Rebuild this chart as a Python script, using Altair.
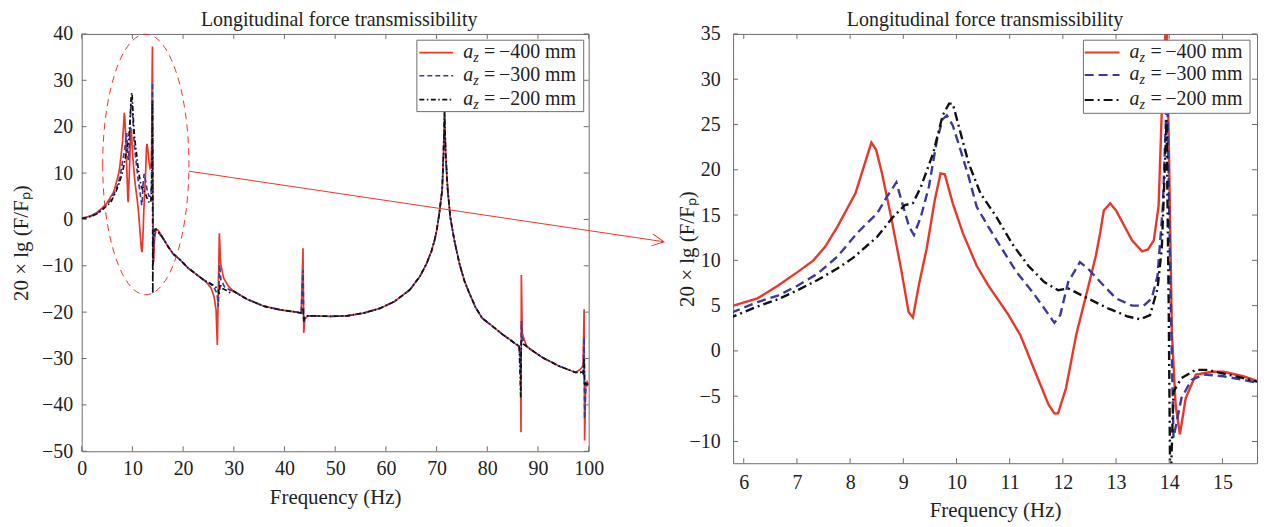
import altair as alt
import pandas as pd

FONT = "Liberation Serif"
RED = "#e8372b"
BLUE = "#3a3a9c"
BLACK = "#111111"
FRAME = "#6e6e6e"
TXT = "#222222"

# ---------------- data ----------------
series = ["-400", "-300", "-200"]
legend_numbers = ["\u2212400", "\u2212300", "\u2212200"]

# a_z = -400 mm, 0-15.65 Hz
red_f = [0, 1, 2, 3, 4, 5, 5.8, 6.26, 6.64, 7.01, 7.31, 7.53, 7.76, 8.1, 8.4, 8.49,
         8.6, 8.77, 8.96, 9.1, 9.18, 9.3, 9.44, 9.59, 9.7, 9.78, 9.93, 10.12, 10.38,
         10.6, 10.98, 11.2, 11.5, 11.73, 11.84, 11.91, 12.06, 12.25, 12.47, 12.62,
         12.7, 12.77, 12.89, 13.0, 13.3, 13.49, 13.6, 13.71, 13.8, 13.88, 13.95,
         14.0, 14.05, 14.12, 14.2, 14.31, 14.5, 14.8, 15.02, 15.39, 15.65]
red_v = [0.3, 0.5, 0.9, 1.5, 2.4, 3.6, 5.0, 5.8, 7.2, 8.7, 10.0, 11.5, 13.7, 17.4, 23.0, 22.2,
         19.6, 14.8, 9.0, 4.3, 3.7, 7.5, 11.3, 16.6, 19.6, 19.5, 16.3, 13.0, 9.4,
         7.2, 3.95, 1.76, -2.6, -5.9, -6.9, -6.9, -4.1, 1.76, 6.9, 10.5,
         13.0, 15.5, 16.3, 15.5, 12.2, 11.0, 11.2, 12.2, 16.0, 30.0, 37.3,
         20.0, 2.0, -6.0, -9.2, -5.2, -2.6, -2.3, -2.3, -2.8, -3.3]

# a_z = -300 mm, 0-15.65 Hz
blue_f = [0, 1, 2, 3, 4, 5, 5.8, 6.26, 6.64, 7.01, 7.38, 7.76, 8.13, 8.51, 8.69, 8.87,
          9.0, 9.11, 9.2, 9.33, 9.48, 9.63, 9.74, 9.82, 9.93, 10.08,
          10.23, 10.38, 10.6, 10.83, 11.13, 11.43, 11.65, 11.84, 11.95, 12.1,
          12.32, 12.47, 12.77, 13.0, 13.3, 13.52, 13.67, 13.78, 13.88, 13.96,
          14.02, 14.08, 14.23, 14.42, 14.64, 15.02, 15.39, 15.65]
blue_v = [0.2, 0.4, 0.8, 1.3, 2.1, 3.2, 4.3, 5.4, 6.1, 7.2, 8.5, 10.4, 13.0, 15.2, 17.0, 18.6,
          15.9, 13.7, 12.8, 14.8, 18.1, 23.2, 25.6, 26.0, 24.9, 22.1,
          19.2, 15.9, 13.7, 11.5, 8.7, 6.5, 4.7, 3.1, 3.95, 7.6,
          9.8, 9.1, 7.2, 5.8, 5.0, 5.0, 5.8, 8.3, 16.0, 29.5,
          8.0, -9.6, -5.2, -3.2, -2.6, -2.8, -3.2, -3.5]

# a_z = -200 mm, 0-15.65 Hz
black_f = [0, 1, 2, 3, 4, 5, 5.8, 6.26, 6.64, 7.01, 7.38, 7.76, 8.06, 8.51, 8.81, 9.03,
           9.18, 9.33, 9.56, 9.74, 9.86, 9.93, 10.08, 10.23, 10.45, 10.75,
           11.05, 11.35, 11.65, 11.91, 12.1, 12.47, 12.85, 13.22, 13.45, 13.64,
           13.78, 13.86, 13.95, 13.99, 14.02, 14.08, 14.23, 14.49, 14.72, 15.02,
           15.39, 15.65]
black_v = [0.2, 0.4, 0.7, 1.2, 2.0, 3.0, 3.8, 4.9, 5.7, 6.7, 7.8, 9.1, 10.3, 12.6, 14.8, 16.1,
           16.3, 18.1, 21.8, 26.0, 27.3, 27.3, 24.0, 20.7, 17.4, 14.8,
           11.8, 9.4, 7.6, 6.7, 6.9, 5.8, 4.7, 3.8, 3.5, 3.95,
           6.9, 11.3, 25.5, 5.0, -16.0, -4.5, -3.0, -2.1, -2.1, -2.5,
           -3.0, -3.4]

# shared smooth part above 16 Hz (the three curves overlap there)
tail_f = [16.0, 17.0, 18.0, 19.5, 21.0, 22.8, 24.0, 30.0, 32.6, 35.9, 39.2, 42.4,
          45.7, 49.0, 52.3, 55.6, 58.8, 61.7, 64.7, 66.7, 68.0, 69.0,
          69.6, 70.0, 70.5, 71.1, 72.2, 72.7, 73.5, 74.5, 75.5, 76.5,
          77.7, 79.0, 81.0, 83.0, 84.3, 85.5, 88.5, 90.9, 94.1, 97.4]
tail_v = [-4.0, -5.8, -7.4, -8.8, -10.5, -12.0, -13.0, -15.5, -17.2, -18.7, -19.5, -20.0,
          -20.8, -20.9, -20.8, -20.2, -19.2, -17.7, -15.2, -12.3, -9.6, -6.8,
          -4.5, -2.5, 1.0, 6.3, 6.3, 0.5, -4.5, -9.5, -13.3, -16.0,
          -19.0, -21.3, -23.0, -24.8, -25.8, -26.8, -28.0, -29.8, -31.6, -33.0]

# resonance spikes (27, 44, 72, 87, 99 Hz), per series
red_spk_f = [24.8, 25.5, 26.1, 26.5, 26.75, 26.95, 27.15, 27.4, 28.0, 29.0,
             43.3, 43.65, 43.8, 44.0, 44.6, 71.35, 71.57, 71.8,
             86.25, 86.55, 86.65, 86.72, 86.9, 87.3, 87.8,
             98.4, 98.9, 99.1, 99.2, 99.4, 99.7, 100.0]
red_spk_v = [-13.8, -14.8, -16.6, -19.5, -27.1, -15.0, -3.0, -9.5, -12.7, -14.5,
             -20.2, -6.2, -24.5, -21.5, -20.8, 14.0, 23.5, 14.0,
             -27.5, -30.0, -45.9, -12.0, -24.5, -26.0, -27.4,
             -32.3, -31.5, -19.4, -47.7, -36.0, -35.0, -35.6]
blue_spk_f = [25.0, 26.0, 26.7, 26.95, 27.2, 27.45, 28.2, 29.2,
              43.3, 43.65, 43.8, 44.0, 44.6, 71.35, 71.57, 71.8,
              86.3, 86.6, 86.72, 86.9, 87.3, 87.8,
              98.4, 98.9, 99.1, 99.2, 99.4, 99.7, 100.0]
blue_spk_v = [-13.6, -14.5, -16.0, -18.8, -9.8, -13.0, -14.6, -15.2,
              -20.2, -10.9, -22.3, -21.0, -20.8, 13.5, 22.3, 13.5,
              -27.3, -33.0, -21.9, -25.5, -26.5, -27.4,
              -32.9, -33.0, -25.5, -43.0, -37.0, -35.5, -35.7]
black_spk_f = [25.0, 26.1, 26.9, 27.1, 27.3, 27.6, 28.5, 29.3,
               43.3, 43.65, 43.8, 44.0, 44.6, 71.35, 71.57, 71.8,
               86.3, 86.6, 86.72, 87.0, 87.8,
               98.4, 98.9, 99.1, 99.2, 99.4, 100.0]
black_spk_v = [-13.6, -14.3, -15.0, -16.4, -13.9, -14.8, -15.3, -15.8,
               -20.2, -19.1, -22.0, -20.9, -20.8, 14.0, 23.2, 14.0,
               -27.2, -38.4, -25.8, -26.8, -27.4,
               -33.0, -33.5, -29.8, -35.9, -35.3, -35.7]

# axis ticks
left_xticks = list(range(0, 101, 10))
left_yticks = list(range(-50, 41, 10))
right_xticks = list(range(6, 16))
right_yticks = list(range(-10, 36, 5))

# annotation (zoom ellipse and arrow), in left-panel data units
ellipse_center = [12.64, 11.85]
arrow_start = [21.15, 10.4]
arrow_end = [114.86, -4.82]


def build(low_f, low_v, spk_f, spk_v, name):
    df = pd.DataFrame({"f": list(low_f) + tail_f + list(spk_f),
                       "v": list(low_v) + tail_v + list(spk_v)})
    df = df.sort_values("f").reset_index(drop=True)
    df["s"] = name
    return df


dfs = [build(red_f, red_v, red_spk_f, red_spk_v, series[0]),
       build(blue_f, blue_v, blue_spk_f, blue_spk_v, series[1]),
       build(black_f, black_v, black_spk_f, black_spk_v, series[2])]
colors = [RED, BLUE, BLACK]

W1, H1 = 509, 419
W2, H2 = 526, 431


def axis(values, title, lpad, tpad, **kw):
    return alt.Axis(values=values, title=title, ticks=False, tickSize=0, domain=False,
                    grid=False, labelFont=FONT, labelFontSize=20, labelColor=TXT,
                    labelPadding=lpad, labelFlush=False, labelOverlap=False,
                    titleFont=FONT, titleFontSize=21, titleFontWeight="normal",
                    titleColor=TXT, titlePadding=tpad, **kw)


def tick_layers(xenc, yenc, xt, yt, w, h, L=5):
    dx = pd.DataFrame({"f": xt})
    dy = pd.DataFrame({"v": yt})
    st = dict(color=FRAME, strokeWidth=1)
    return [
        alt.Chart(dx).mark_rule(**st).encode(x=xenc, y=alt.value(h), y2=alt.value(h - L)),
        alt.Chart(dx).mark_rule(**st).encode(x=xenc, y=alt.value(0), y2=alt.value(L)),
        alt.Chart(dy).mark_rule(**st).encode(y=yenc, x=alt.value(0), x2=alt.value(L)),
        alt.Chart(dy).mark_rule(**st).encode(y=yenc, x=alt.value(w), x2=alt.value(w - L)),
    ]


def legend_layers(bx0, bx1, by0, by1, rows, sx0, sx1, tx, lw, dashes):
    one = pd.DataFrame({"k": [0]})
    out = [alt.Chart(one).mark_rect(fill="white", stroke=FRAME, strokeWidth=1).encode(
        x=alt.value(bx0), x2=alt.value(bx1), y=alt.value(by0), y2=alt.value(by1))]
    for i, ry in enumerate(rows):
        kw = dict(color=colors[i], strokeWidth=lw)
        if dashes[i]:
            kw["strokeDash"] = dashes[i]
        out.append(alt.Chart(one).mark_rule(**kw).encode(
            x=alt.value(sx0), x2=alt.value(sx1), y=alt.value(ry)))
        tkw = dict(font=FONT, color=TXT, align="left", baseline="alphabetic")
        out.append(alt.Chart(one).mark_text(text="a", fontSize=20, fontStyle="italic", **tkw).encode(
            x=alt.value(tx), y=alt.value(ry + 5)))
        out.append(alt.Chart(one).mark_text(text="z", fontSize=14, fontStyle="italic", **tkw).encode(
            x=alt.value(tx + 10), y=alt.value(ry + 9)))
        out.append(alt.Chart(one).mark_text(text="=", fontSize=20, **tkw).encode(
            x=alt.value(tx + 21), y=alt.value(ry + 5)))
        out.append(alt.Chart(one).mark_text(text=legend_numbers[i] + " mm", fontSize=20, **tkw).encode(
            x=alt.value(tx + 36), y=alt.value(ry + 5)))
    return out


def title(dx):
    return alt.TitleParams("Longitudinal force transmissibility", font=FONT, fontSize=20,
                           fontWeight="normal", color=TXT, offset=-6, anchor="middle",
                           frame="group", dx=dx)


# ---------------- left panel ----------------
xl = alt.X("f:Q", scale=alt.Scale(domain=[0, 100], nice=False, zero=False),
           axis=axis(left_xticks, "Frequency (Hz)", 7, 8))
yl = alt.Y("v:Q", scale=alt.Scale(domain=[-50, 40], nice=False, zero=False),
           axis=axis(left_yticks, "20 \u00d7 lg (F/F\u209a)", 9, 8, titleX=-50))

left_dash = [None, [5, 3], [5, 2.5, 1.5, 2.5]]
left_lines = []
for df, c, d in zip(dfs, colors, left_dash):
    kw = dict(color=c, strokeWidth=1.7, clip=True)
    if d:
        kw["strokeDash"] = d
    left_lines.append(alt.Chart(df).mark_line(**kw).encode(x=xl, y=yl))

one = pd.DataFrame({"k": [0]})
ellipse = alt.Chart(one).mark_point(
    shape="M -0.331 0 A 0.331 1 0 1 0 0.331 0 A 0.331 1 0 1 0 -0.331 0",
    size=68400, filled=False, color=RED, strokeWidth=1, strokeDash=[7, 5],
    opacity=1, clip=False).encode(x=alt.datum(ellipse_center[0]), y=alt.datum(ellipse_center[1]))
arrow = alt.Chart(one).mark_rule(color=RED, strokeWidth=1, clip=False).encode(
    x=alt.datum(arrow_start[0]), y=alt.datum(arrow_start[1]),
    x2=alt.datum(arrow_end[0]), y2=alt.datum(arrow_end[1]))
arrow_head = alt.Chart(one).mark_point(
    shape="M -1 -0.5 L 0 0 L -1 0.5", size=576, filled=False, color=RED, strokeWidth=1,
    opacity=1, angle=8.5, clip=False).encode(x=alt.datum(arrow_end[0]), y=alt.datum(arrow_end[1]))

left = alt.layer(
    *left_lines, ellipse, arrow, arrow_head,
    *tick_layers(xl, yl, left_xticks, left_yticks, W1, H1),
    *legend_layers(336.5, 504, 6.3, 78, [18.7, 42, 66], 339, 373, 383, 1.7, left_dash),
).properties(width=W1, height=H1, title=title(4))

# ---------------- right panel ----------------
xr = alt.X("f:Q", scale=alt.Scale(domain=[5.8, 15.65], nice=False, zero=False),
           axis=axis(right_xticks, "Frequency (Hz)", 9, 8))
yr = alt.Y("v:Q", scale=alt.Scale(domain=[-12.4, 35], nice=False, zero=False),
           axis=axis(right_yticks, "20 \u00d7 lg (F/F\u209a)", 13, 8, titleX=-36))

right_dash = [None, [9, 5], [9, 4, 2, 4]]
right_lines = []
for df, c, d in zip(dfs, colors, right_dash):
    sub = df[(df.f >= 5.0) & (df.f <= 16.0)]
    kw = dict(color=c, strokeWidth=2.4, clip=True)
    if d:
        kw["strokeDash"] = d
    right_lines.append(alt.Chart(sub).mark_line(**kw).encode(x=xr, y=yr))

right = alt.layer(
    *right_lines,
    *tick_layers(xr, yr, right_xticks, right_yticks, W2, H2),
    *legend_layers(351.7, 519, 6.3, 79.7, [18.7, 41.3, 66.3], 353, 388, 398, 2.0, right_dash),
).properties(width=W2, height=H2, title=title(-10))

chart = alt.hconcat(left, right, spacing=145, bounds="flush").properties(
    padding={"left": 2, "top": 0, "right": 0, "bottom": 0}
).configure_view(stroke=FRAME, strokeWidth=1)

chart.save("out.html", embed_options={"renderer": "svg", "actions": False})
